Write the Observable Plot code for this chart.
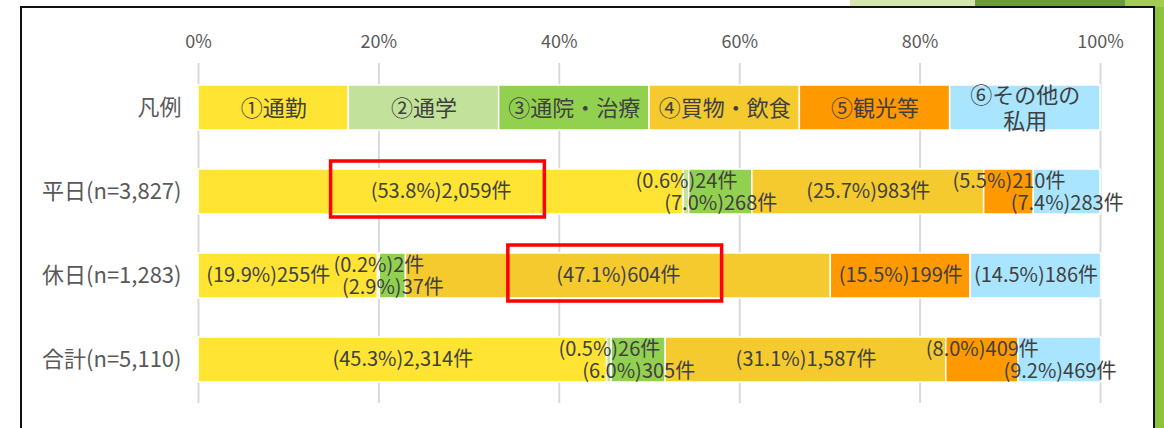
<!DOCTYPE html>
<html>
<head>
<meta charset="utf-8">
<script src="https://cdn.jsdelivr.net/npm/d3@7"></script>
<script src="https://cdn.jsdelivr.net/npm/@observablehq/plot@0.6"></script>
<style>
html, body { margin: 0; padding: 0; background: #fff; }
#wrap { position: relative; width: 1164px; height: 428px; overflow: hidden; font-family: "Noto Sans CJK JP", "Noto Sans", sans-serif; }
#chart { position: absolute; left: 0; top: 0; }
.deco { position: absolute; }
</style>
</head>
<body>
<div id="wrap">
  <div id="chart"></div>
  <div class="deco" style="left:850px;top:0;width:125px;height:7px;background:#d3e6ad;"></div>
  <div class="deco" style="left:975px;top:0;width:150px;height:7px;background:#6a9b3c;"></div>
  <div class="deco" style="left:1125px;top:0;width:39px;height:7px;background:#a3cc52;"></div>
  <div class="deco" style="left:1155px;top:7px;width:9px;height:421px;background:#8cc33c;"></div>
  <div class="deco" style="left:20px;top:6px;width:1135px;height:430px;border:2px solid #111;border-bottom:none;box-sizing:border-box;"></div>
</div>
<script>
// ---- data ----
const rows = ["凡例", "平日(n=3,827)", "休日(n=1,283)", "合計(n=5,110)"];
const purposes = ["①通勤", "②通学", "③通院・治療", "④買物・飲食", "⑤観光等", "⑥その他の私用"];
const legendLabels = ["①通勤", "②通学", "③通院・治療", "④買物・飲食", "⑤観光等", "⑥その他の\n私用"];
const purposeColors = ["#ffe433", "#c2e29b", "#92d050", "#f4ca2e", "#ff9900", "#a9e5ff"];
const weekdayPct = [53.8, 0.6, 7.0, 25.7, 5.5, 7.4];
const weekdayCount = [2059, 24, 268, 983, 210, 283];
const holidayPct = [19.9, 0.2, 2.9, 47.1, 15.5, 14.5];
const holidayCount = [255, 2, 37, 604, 199, 186];
const totalPct = [45.3, 0.5, 6.0, 31.1, 8.0, 9.2];
const totalCount = [2314, 26, 305, 1587, 409, 469];
const xTicks = [0, 20, 40, 60, 80, 100];

// label placement rules (row index : purpose index)
const upLabels = ["1:1", "1:4", "2:1", "3:1", "3:4"];
const downLabels = ["1:2", "1:5", "2:2", "3:2", "3:5"];
const leftLabels = ["2:0"];
const highlighted = ["1:0", "2:3"];

// ---- table ----
const fmt = d3.format(",");
const segs = [];
purposes.forEach((p, i) => segs.push({
  row: rows[0], key: p, x1: i * 100 / 6, x2: (i + 1) * 100 / 6,
  label: legendLabels[i], legend: true, id: "0:" + i
}));
[[weekdayPct, weekdayCount], [holidayPct, holidayCount], [totalPct, totalCount]].forEach(([pct, cnt], r) => {
  let acc = 0;
  pct.forEach((v, i) => {
    segs.push({
      row: rows[r + 1], key: purposes[i], x1: acc, x2: acc + v,
      label: `(${v.toFixed(1)}%)${fmt(cnt[i])}件`, legend: false, id: (r + 1) + ":" + i
    });
    acc += v;
  });
});
segs.forEach(d => d.mid = (d.x1 + d.x2) / 2);

const place = d => upLabels.includes(d.id) ? "up" : downLabels.includes(d.id) ? "down" : leftLabels.includes(d.id) ? "left" : "center";
const textBase = {x: "mid", y: "row", text: "label", fill: "#404040", fontSize: 20};

const chart = Plot.plot({
  width: 1164,
  height: 428,
  marginLeft: 198,
  marginRight: 64,
  marginTop: 63,
  marginBottom: 25,
  style: {fontFamily: '"Noto Sans CJK JP", "Noto Sans", sans-serif', color: "#595959", background: "transparent"},
  x: {domain: [0, 100], axis: null},
  y: {domain: rows, axis: null, paddingInner: 0.469, paddingOuter: 0.2425},
  color: {domain: purposes, range: purposeColors},
  marks: [
    Plot.gridX(xTicks, {stroke: "#d9d9d9", strokeOpacity: 1, strokeWidth: 2}),
    Plot.axisX({anchor: "top", ticks: xTicks, tickFormat: d => d + "%", tickSize: 0, tickPadding: 16, fontSize: 18, label: null}),
    Plot.axisY({anchor: "left", tickSize: 0, tickPadding: 17, fontSize: 22, label: null}),
    Plot.barX(segs, {x1: "x1", x2: "x2", y: "row", fill: "key", stroke: "#fff", strokeWidth: 1.5}),
    Plot.text(segs.filter(d => d.legend), {...textBase, fontSize: 22, lineHeight: 1.15}),
    Plot.text(segs.filter(d => !d.legend && place(d) === "center"), textBase),
    Plot.text(segs.filter(d => !d.legend && place(d) === "up"), {...textBase, dy: -10}),
    Plot.text(segs.filter(d => !d.legend && place(d) === "down"), {...textBase, dy: 12}),
    Plot.text(segs.filter(d => !d.legend && place(d) === "left"), {...textBase, dx: -20}),
    Plot.barX(segs.filter(d => highlighted.includes(d.id)), {
      x1: d => d.mid - 12.2, x2: d => d.mid + 11.5, y: "row",
      fill: "none", stroke: "#ff0000", strokeWidth: 3.5, insetTop: -8, insetBottom: -3
    })
  ]
});
document.getElementById("chart").appendChild(chart);
</script>
</body>
</html>
